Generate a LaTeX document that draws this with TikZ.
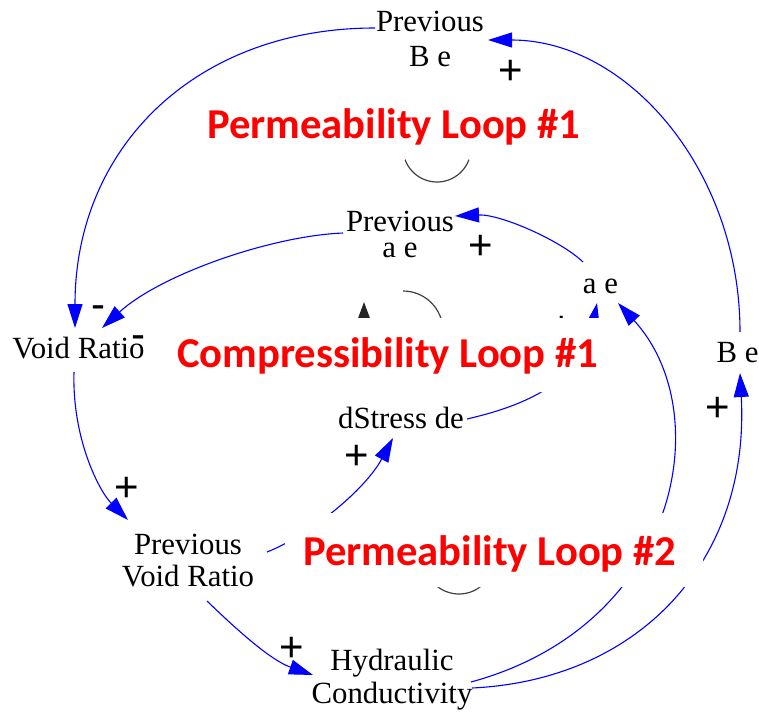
\documentclass[tikz,border=0pt]{standalone}
\usepackage{fontspec}
\setmainfont{Liberation Serif}
\newfontfamily\labelfont{Carlito}
\newfontfamily\signfont{Liberation Sans}
\usetikzlibrary{arrows.meta,calc}

\begin{document}
\begin{tikzpicture}[x=1pt,y=-1pt,
  var/.style={inner sep=0pt, align=center, text=black,
    font=\fontsize{30.8}{33}\selectfont},
  link/.style={draw=blue, line width=1.1pt,
    -{Triangle[length=24pt,width=15pt]}},
  loopline/.style={draw=black!75, line width=1.2pt},
  sign/.style={inner sep=0pt, text=black,
    font=\signfont\fontsize{42}{42}\selectfont},
  mask/.style={fill=white, rounded corners=6pt},
  looplabel/.style={inner sep=0pt, anchor=base west, text=red,
    font=\labelfont\bfseries\fontsize{42.6}{43}\selectfont}]

\useasboundingbox (0,0) rectangle (759,712);

% variables
\node[var] (pbe) at (430,39.3)  {Previous\\[2pt]B e};
\node[var] (pae) at (400,234.7) {Previous\\[-7pt]a e};
\node[var] (ae)  at (600.5,286) {a e};
\node[var] (be)  at (737.5,353) {B e};
\node[var] (vr)  at (78.5,347.8) {Void Ratio};
\node[var] (ds)  at (401,417.7) {dStress de};
\node[var] (pvr) at (188,560.8) {Previous\\[-1pt]Void Ratio};
\node[var] (hc)  at (392,679.5) {Hydraulic\\Conductivity};

% causal links
\draw[link] ($(pbe.center)+(-55,-11.3)$) .. controls (195,28) and (75,148) .. ($(vr.center)+(-3.5,-19.8)$);
\draw[link] ($(pae.center)+(-57,-1.7)$) .. controls (270,236) and (160,275) .. ($(vr.center)+(23.5,-19.8)$);
\draw[link] ($(vr.center)+(-4.5,24.2)$) .. controls (72,440) and (100,492) .. ($(pvr.center)+(-60,-40.8)$);
\draw[link] ($(pvr.center)+(79,-8.8)$) .. controls (310,535) and (365,490) .. ($(ds.center)+(-8,20.3)$);
\draw[link] ($(pvr.center)+(19,40.2)$) .. controls (235,628) and (270,660) .. ($(hc.center)+(-79,-4.5)$);
\draw[link] ($(ds.center)+(66,1.3)$) .. controls (505,410) and (580,390) .. ($(ae.center)+(-3.5,17)$);
\draw[link] ($(ae.center)+(-17.5,-24)$) .. controls (560,240) and (500,214) .. ($(pae.center)+(55,-18.7)$);
\draw[link] ($(hc.center)+(79,2.5)$) .. controls (680,625) and (718,412) .. ($(ae.center)+(17.5,17)$);
\draw[link] ($(hc.center)+(80,8.5)$) .. controls (640,680) and (750,560) .. ($(be.center)+(2.5,20)$);
\draw[link] ($(be.center)+(2.5,-21)$) .. controls (740,170) and (627,40) .. ($(pbe.center)+(58,0.7)$);

% loop markers
\draw[loopline] (437,148) ++(160:34) arc[start angle=160, end angle=20, radius=34];
\draw[loopline] (403,331) ++(-90:40) arc[start angle=-90, end angle=200, radius=40];
\fill[black!85] (357,321) -- (371,321) -- (364,302) -- cycle;
\draw[loopline] (459,559) ++(150:35) arc[start angle=150, end angle=30, radius=35];

% polarities
\node[sign] (s1) at (511,72.3)  {+};
\node[sign] (s2) at (481,247.3) {+};
\node[sign] (s3) at (357,457.3) {+};
\node[sign] (s4) at (127,489.3) {+};
\node[sign] (s5) at (292,649.3) {+};
\node[sign] (s6) at (718,409.3) {+};
\node[sign] (s7) at (562,328.3) {+};
\node[sign] (m1) at (98,311.6)  {-};
\node[sign] (m2) at (138,341.6) {-};

% loop names on white panels
\fill[mask] (200,100) rectangle (590,158);
\fill[mask] (172,318) rectangle (625,392);
\fill[mask] (285,513) rectangle (703,587);
\node[looplabel] (loopA) at (207,138) {Permeability Loop \#1};
\node[looplabel] (loopB) at (177,367) {Compressibility Loop \#1};
\node[looplabel] (loopC) at (303,565) {Permeability Loop \#2};
\end{tikzpicture}
\end{document}
